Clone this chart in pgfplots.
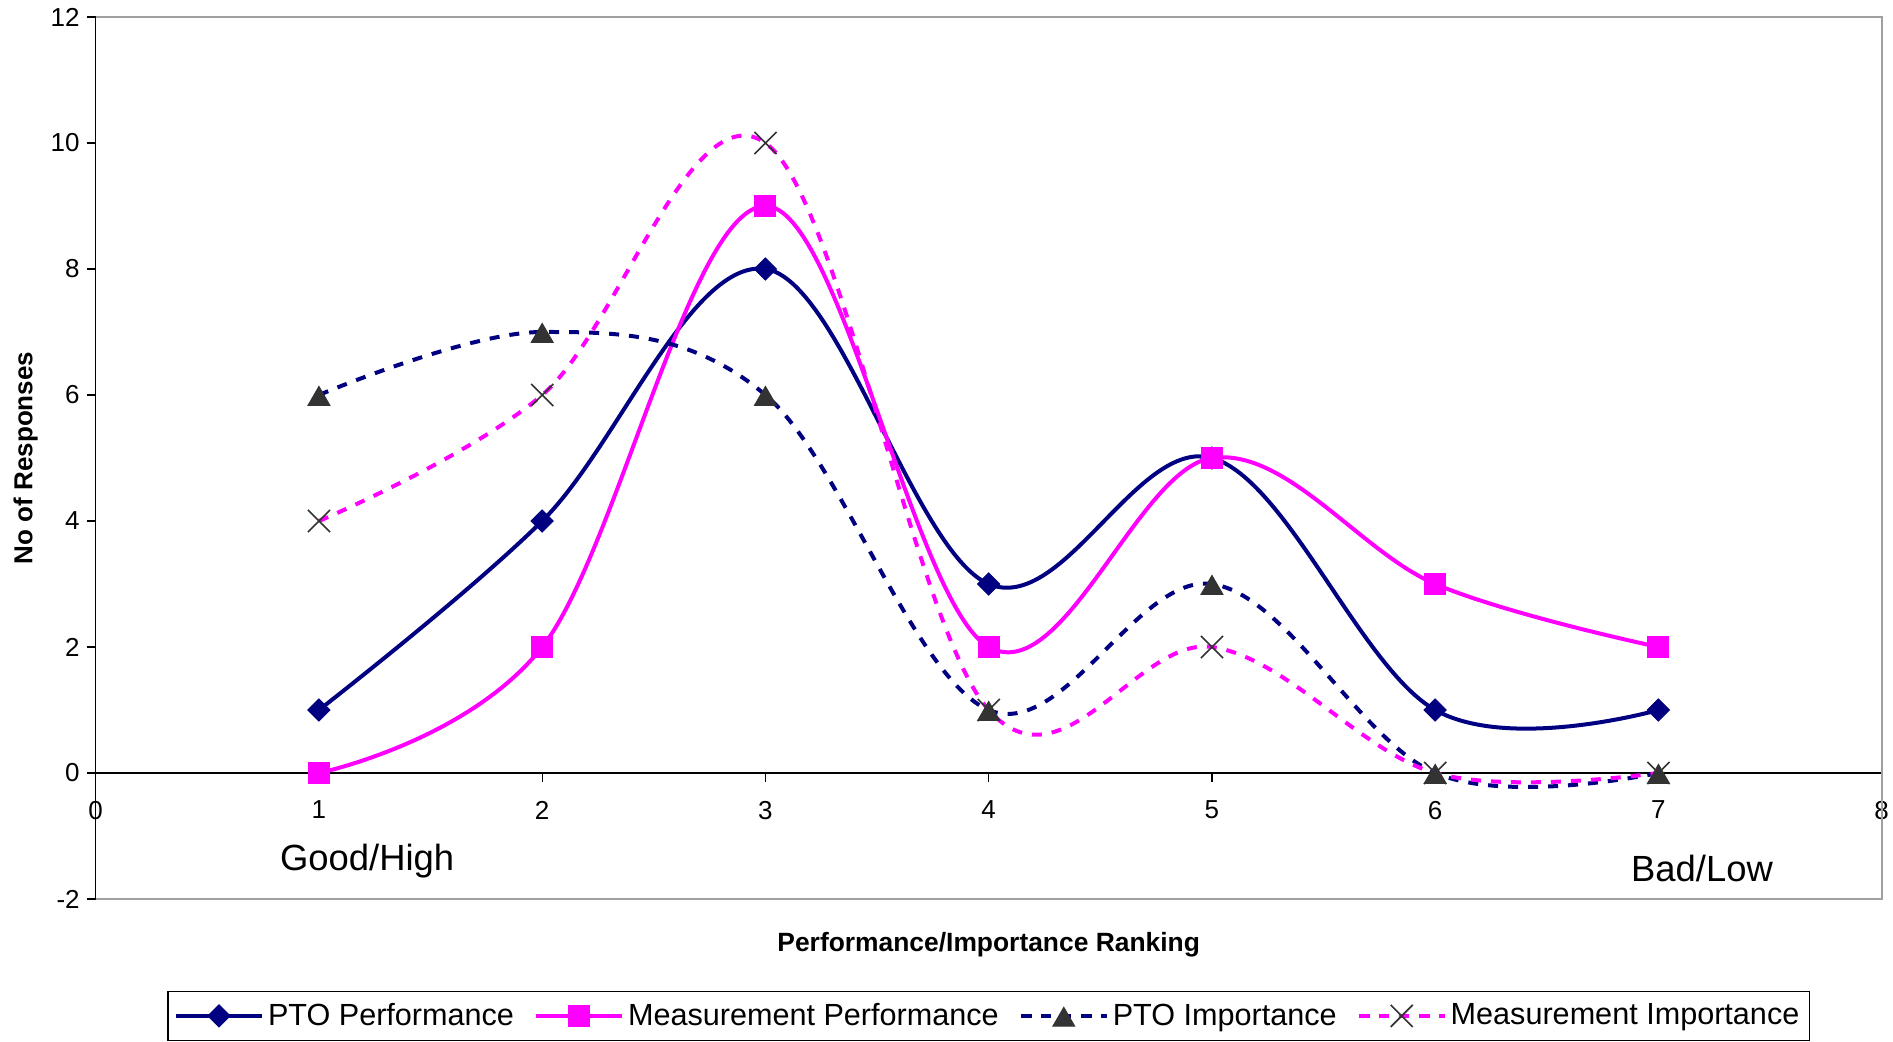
\documentclass[border=0pt]{standalone}
\usepackage{pgfplots}
\pgfplotsset{compat=1.18}
\usepackage{fontspec}
\setmainfont{Liberation Sans}
\usetikzlibrary{calc}
\definecolor{navy}{RGB}{0,0,128}
\definecolor{mag}{RGB}{255,0,255}
\definecolor{mk}{RGB}{51,51,51}
\definecolor{frame}{RGB}{160,160,160}
\begin{document}
\begin{tikzpicture}
\path[use as bounding box] (-47.85pt,-71.5pt) rectangle (898.65pt,449.5pt);
\begin{axis}[
  scale only axis, width=893pt, height=441pt,
  xmin=0, xmax=8, ymin=-2, ymax=12,
  axis x line=middle, axis y line=left,
  axis line style={-, black, line width=0.6pt},
  hide obscured x ticks=false, hide obscured y ticks=false,
  xtick={0,1,...,8}, ytick={-2,0,2,4,6,8,10,12},
  tick align=outside, major tick length=4.5pt,
  tick style={black, line width=0.6pt},
  ticklabel style={font=\fontsize{13}{15}\selectfont},
  /pgf/number format/assume math mode=true,
  xticklabel style={anchor=north, yshift=-6pt},
  clip=false,
  legend style={at={(axis description cs:0.5,-0.104)}, anchor=north,
    legend columns=4, draw=black, line width=0.6pt,
    font=\fontsize{15.3}{18}\selectfont,
    /tikz/every even column/.append style={column sep=8pt},
    inner ysep=4pt, inner xsep=3pt},
  legend image code/.code={\draw[mark repeat=2,mark phase=2,#1] plot coordinates {(0pt,0pt) (21.5pt,0pt) (43pt,0pt)};},
]
\addplot[navy, line width=2pt, smooth, tension=0.6, mark=square*, mark size=3.9pt,
  mark options={rotate=45, solid, fill=navy, draw=navy, line width=0.5pt}]
  coordinates {(1,1)(2,4)(3,8)(4,3)(5,5)(6,1)(7,1)};
\addlegendentry{PTO Performance}
\addplot[mag, line width=2pt, smooth, tension=0.6, mark=square*, mark size=5.25pt,
  mark options={solid, fill=mag, draw=mag, line width=0.5pt}]
  coordinates {(1,0)(2,2)(3,9)(4,2)(5,5)(6,3)(7,2)};
\addlegendentry{Measurement Performance}
\addplot[navy, line width=2pt, smooth, tension=0.6, dash pattern=on 5pt off 5pt,
  mark=triangle*, mark size=6.27pt,
  mark options={solid, fill=mk, draw=mk, line width=0.5pt, yshift=-2pt}]
  coordinates {(1,6)(2,7)(3,6)(4,1)(5,3)(6,0)(7,0)};
\addlegendentry{PTO Importance}
\addplot[mag, line width=2pt, smooth, tension=0.6, dash pattern=on 5pt off 5pt,
  mark=x, mark size=7.8pt,
  mark options={solid, draw=mk, line width=0.8pt}]
  coordinates {(1,4)(2,6)(3,10)(4,1)(5,2)(6,0)(7,0)};
\addlegendentry{Measurement Importance}
\draw[frame, line width=1.2pt] (rel axis cs:0,1) -- (rel axis cs:1,1) -- (rel axis cs:1,0) -- (rel axis cs:0,0);
\draw[black, line width=0.6pt] (rel axis cs:0,0) -- (rel axis cs:0,1);
\node[anchor=base, font=\fontsize{18.2}{22}\selectfont] at (axis cs:1.216,-1.54) {Good/High};
\node[anchor=base, font=\fontsize{18.2}{22}\selectfont] at (axis cs:7.195,-1.725) {Bad/Low};
\node[anchor=base, font=\bfseries\fontsize{13.2}{15}\selectfont] at ($(rel axis cs:0.5,0)+(canvas cs:x=0pt,y=-26.35pt)$) {Performance/Importance Ranking};
\node[anchor=base, rotate=90, font=\bfseries\fontsize{13}{15}\selectfont] at ($(rel axis cs:0,0.5)+(canvas cs:x=-31.7pt,y=0pt)$) {No of Responses};
\end{axis}
\end{tikzpicture}
\end{document}
